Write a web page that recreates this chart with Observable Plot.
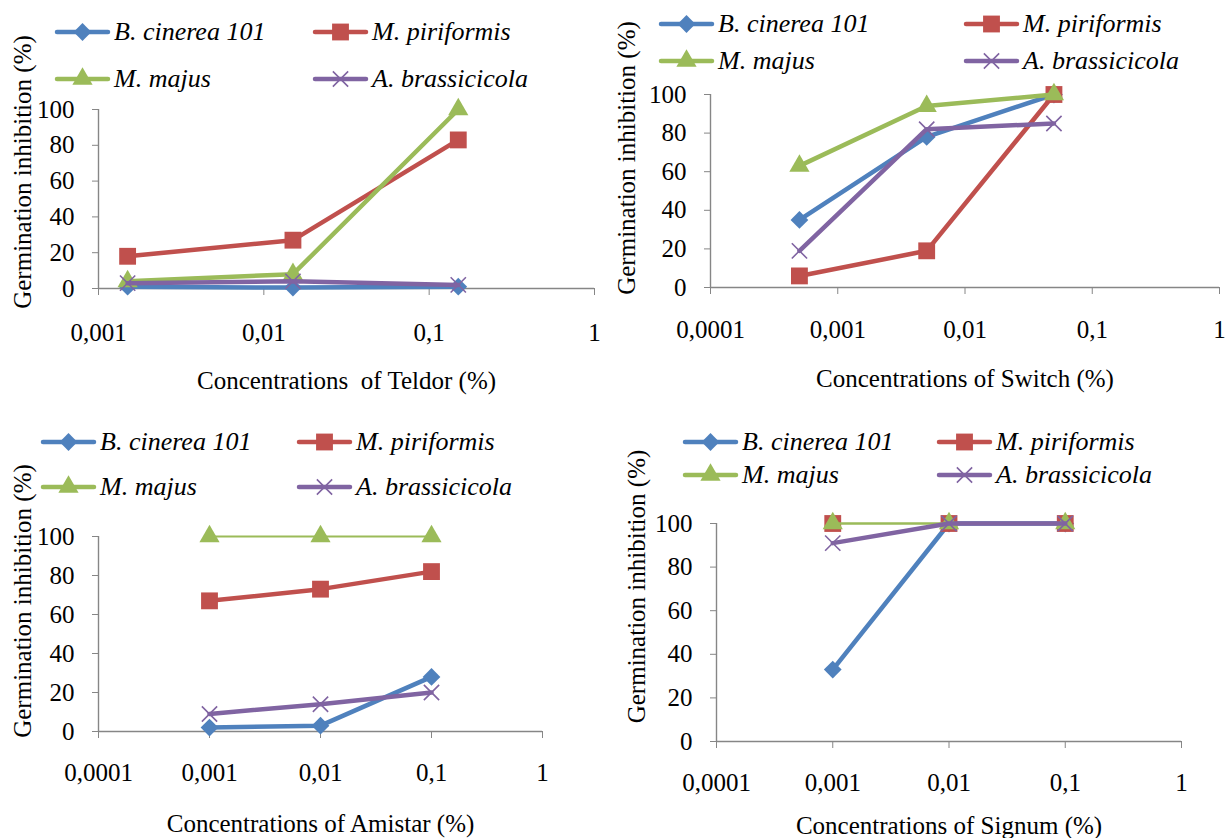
<!DOCTYPE html>
<html>
<head>
<meta charset="utf-8">
<script src="https://cdn.jsdelivr.net/npm/d3@7"></script>
<script src="https://cdn.jsdelivr.net/npm/@observablehq/plot@0.6"></script>
<style>
  body { margin: 0; background: #fff; }
  #wrap { position: relative; width: 1229px; height: 838px; overflow: hidden; background: #fff;
          font-family: "Liberation Serif", "Tinos", "Times New Roman", "Times", "Nimbus Roman", "FreeSerif", "Noto Serif", "DejaVu Serif", serif; color: #000; }
  .panel { position: absolute; }
  .leg { position: absolute; display: flex; align-items: center; height: 30px; white-space: nowrap;
         font-style: italic; font-size: 26px; line-height: 30px; }
  .leg svg { flex: none; margin-right: 4px; overflow: visible; }
</style>
</head>
<body>
<div id="wrap"></div>
<script>
// ---------- data ----------
const seriesNames = ["B. cinerea 101", "M. piriformis", "M. majus", "A. brassicicola"];

const teldorConcentrations = [0.0015, 0.015, 0.15];
const teldorBcinerea = [1, 0.5, 1];
const teldorMpiriformis = [18, 27, 83];
const teldorMmajus = [4, 8, 100];
const teldorAbrassicicola = [3, 4, 2];

const switchConcentrations = [0.0005, 0.005, 0.05];
const switchBcinerea = [35, 78, 100];
const switchMpiriformis = [6, 19, 100];
const switchMmajus = [63, 94, 100];
const switchAbrassicicola = [19, 82, 85];

const amistarConcentrations = [0.001, 0.01, 0.1];
const amistarBcinerea = [2, 3, 28];
const amistarMpiriformis = [67, 73, 82];
const amistarMmajus = [100, 100, 100];
const amistarAbrassicicola = [9, 14, 20];

const signumConcentrations = [0.001, 0.01, 0.1];
const signumBcinerea = [33, 100, 100];
const signumMpiriformis = [100, 100, 100];
const signumMmajus = [100, 100, 100];
const signumAbrassicicola = [91, 100, 100];

const yTicks = [0, 20, 40, 60, 80, 100];
const xTicksTeldor = [0.001, 0.01, 0.1, 1];
const xTicksOther = [0.0001, 0.001, 0.01, 0.1, 1];
const xTitles = ["Concentrations\u00a0 of Teldor (%)", "Concentrations of Switch (%)",
                 "Concentrations of Amistar (%)", "Concentrations of Signum (%)"];
const yTitle = "Germination inhibition (%)";

// ---------- styles ----------
const FONT = "'Liberation Serif', Tinos, 'Times New Roman', Times, 'Nimbus Roman', FreeSerif, 'Noto Serif', 'DejaVu Serif', serif";
const AXIS = "#868686";
const colors = ["#4F81BD", "#C0504D", "#9BBB59", "#8064A2"];
const symbolNames = ["diamond2", "square", "triangle", "times"];
const d3Symbols = [d3.symbolDiamond2, d3.symbolSquare, d3.symbolTriangle, d3.symbolTimes];
const symbolR = [8, 9.5, 7.5, 7];
const LINE_W = 4.5;

// thin: series index -> line width override
const panels = [
  { conc: teldorConcentrations, vals: [teldorBcinerea, teldorMpiriformis, teldorMmajus, teldorAbrassicicola],
    xTicks: xTicksTeldor, title: xTitles[0], thin: {},
    left: 0, top: 0, width: 614, height: 410, mL: 98, mR: 20, mT: 109, mB: 122,
    yDx: -76, yDy: -27, xDy: 92, tickPad: 28,
    legCols: [55, 313], legRows: [32, 79] },
  { conc: switchConcentrations, vals: [switchBcinerea, switchMpiriformis, switchMmajus, switchAbrassicicola],
    xTicks: xTicksOther, title: xTitles[1], thin: {},
    left: 614, top: 0, width: 615, height: 410, mL: 96, mR: 10, mT: 94, mB: 123,
    yDx: -84, yDy: -33, xDy: 91, tickPad: 26,
    legCols: [659, 964], legRows: [24, 61] },
  { conc: amistarConcentrations, vals: [amistarBcinerea, amistarMpiriformis, amistarMmajus, amistarAbrassicicola],
    xTicks: xTicksOther, title: xTitles[2], thin: { 2: 2.2 },
    left: 0, top: 410, width: 614, height: 428, mL: 98, mR: 72, mT: 126, mB: 107,
    yDx: -76, yDy: -33, xDy: 92, tickPad: 25,
    legCols: [41, 297], legRows: [442, 487] },
  { conc: signumConcentrations, vals: [signumBcinerea, signumMpiriformis, signumMmajus, signumAbrassicicola],
    xTicks: xTicksOther, title: xTitles[3], thin: { 1: 1.2, 2: 2.4 },
    left: 614, top: 410, width: 615, height: 428, mL: 102, mR: 48, mT: 113, mB: 97,
    yDx: -80, yDy: -46, xDy: 84, tickPad: 25,
    legCols: [683, 937], legRows: [442, 475] }
];

const fmt = d => String(d).replace(".", ",");
const wrap = document.getElementById("wrap");

panels.forEach(p => {
  const rows = [];
  p.vals.forEach((arr, si) => arr.forEach((v, i) => rows.push({ series: seriesNames[si], si, conc: p.conc[i], value: v })));

  const seriesMarks = [];
  seriesNames.forEach((name, si) => {
    const d = rows.filter(r => r.si === si);
    seriesMarks.push(Plot.line(d, { x: "conc", y: "value", stroke: colors[si],
      strokeWidth: p.thin[si] ?? LINE_W, strokeLinejoin: "round", strokeLinecap: "round" }));
    if (symbolNames[si] === "times") {
      seriesMarks.push(Plot.dot(d, { x: "conc", y: "value", symbol: "times", r: symbolR[si], stroke: colors[si], strokeWidth: 1.6, fill: "none" }));
    } else {
      seriesMarks.push(Plot.dot(d, { x: "conc", y: "value", symbol: symbolNames[si], r: symbolR[si], fill: colors[si], stroke: "none" }));
    }
  });

  const chart = Plot.plot({
    width: p.width, height: p.height,
    marginLeft: p.mL, marginRight: p.mR, marginTop: p.mT, marginBottom: p.mB,
    style: { fontFamily: FONT, fontSize: "25px", color: "#000", background: "transparent", overflow: "visible" },
    x: { type: "log", domain: [p.xTicks[0], p.xTicks[p.xTicks.length - 1]] },
    y: { domain: [0, 100] },
    marks: [
      Plot.ruleY([0], { stroke: AXIS, strokeWidth: 1.4 }),
      Plot.ruleX([p.xTicks[0]], { y1: 0, y2: 100, stroke: AXIS, strokeWidth: 1.4 }),
      Plot.axisX({ ticks: p.xTicks, tickFormat: fmt, tickSize: 7, tickPadding: p.tickPad, stroke: AXIS,
                   fill: "#000", label: null, fontSize: 25, fontFamily: FONT }),
      Plot.axisY({ ticks: yTicks, tickSize: 6, tickPadding: 18, stroke: AXIS, fill: "#000", label: null,
                   fontSize: 25, fontFamily: FONT }),
      ...seriesMarks,
      Plot.text([p.title], { text: d => d, frameAnchor: "bottom", textAnchor: "middle", lineAnchor: "middle",
                             dy: p.xDy, fontSize: 25, fontFamily: FONT, fill: "#000" }),
      Plot.text([yTitle], { text: d => d, frameAnchor: "left", textAnchor: "middle", lineAnchor: "middle",
                            rotate: -90, dx: p.yDx, dy: p.yDy, fontSize: 25, fontFamily: FONT, fill: "#000" })
    ]
  });
  const holder = document.createElement("div");
  holder.className = "panel";
  holder.style.left = p.left + "px";
  holder.style.top = p.top + "px";
  holder.appendChild(chart);
  wrap.appendChild(holder);

  // legend (2 x 2)
  seriesNames.forEach((name, si) => {
    const col = si % 2, row = Math.floor(si / 2);
    const div = document.createElement("div");
    div.className = "leg";
    div.style.left = p.legCols[col] + "px";
    div.style.top = (p.legRows[row] - 15) + "px";
    const g = d3.create("svg").attr("width", 55).attr("height", 24);
    g.append("line").attr("x1", 2).attr("x2", 53).attr("y1", 12).attr("y2", 12)
      .attr("stroke", colors[si]).attr("stroke-width", LINE_W).attr("stroke-linecap", "round");
    const path = d3.symbol(d3Symbols[si], Math.PI * symbolR[si] * symbolR[si])();
    const s = g.append("path").attr("d", path).attr("transform", "translate(27.5,12)");
    if (si === 3) s.attr("fill", "none").attr("stroke", colors[si]).attr("stroke-width", 1.6);
    else s.attr("fill", colors[si]);
    div.appendChild(g.node());
    const span = document.createElement("span");
    span.textContent = name;
    div.appendChild(span);
    wrap.appendChild(div);
  });
});
</script>
</body>
</html>
